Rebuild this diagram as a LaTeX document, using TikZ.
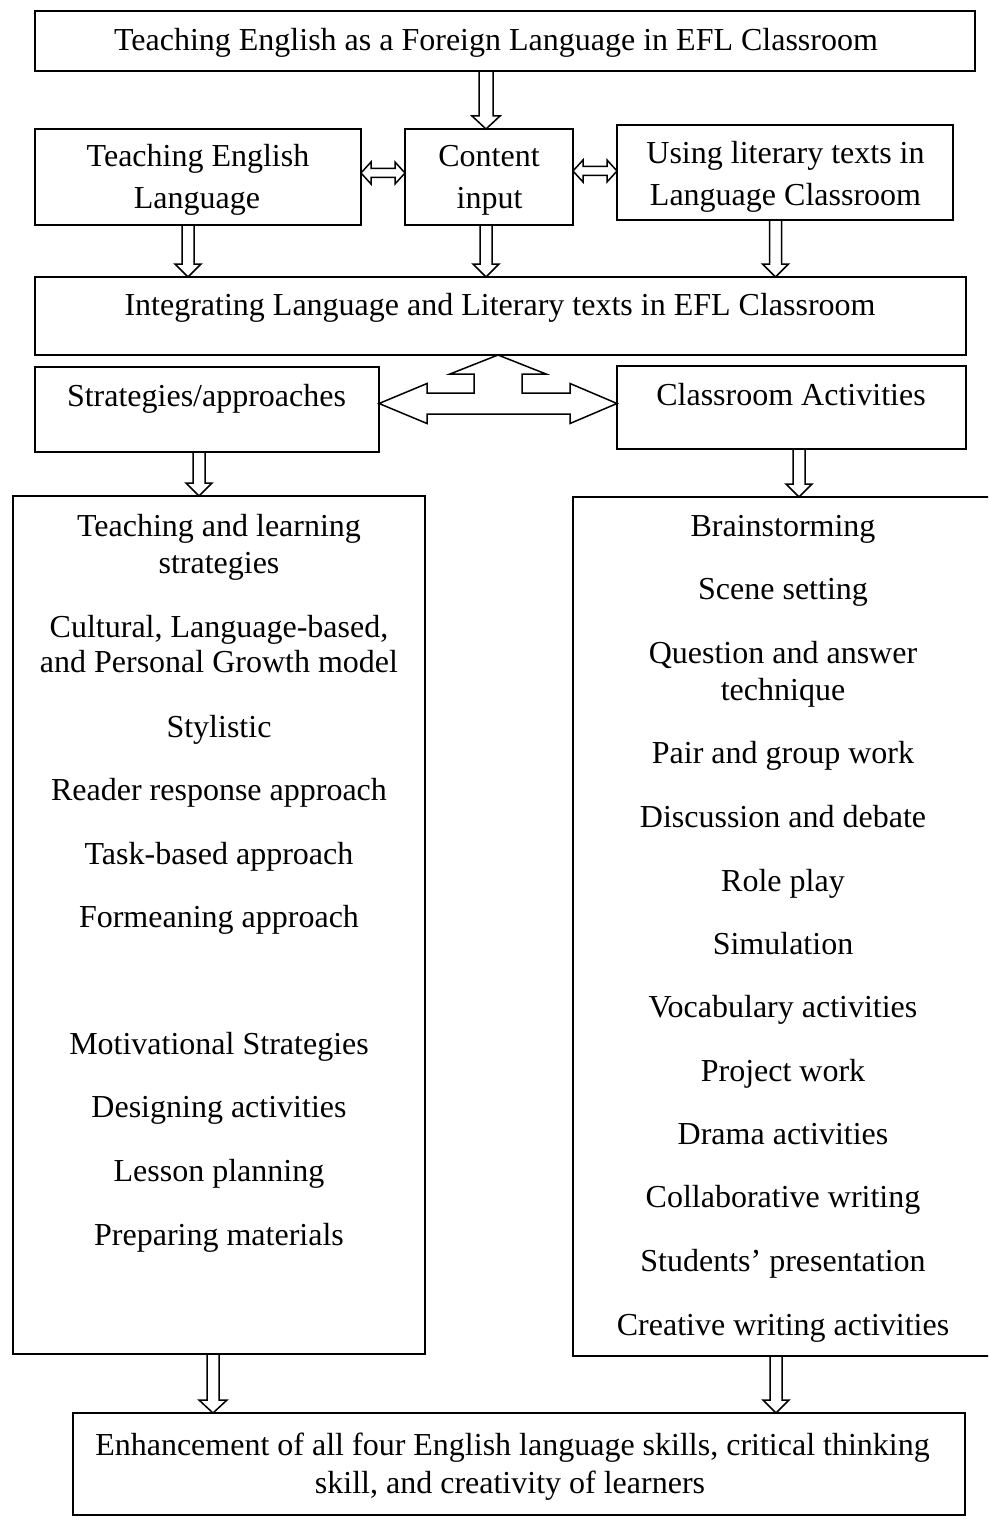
\documentclass[tikz,border=0pt]{standalone}
\usepackage{fontspec}
\setmainfont{Liberation Serif}
\usetikzlibrary{calc}
\tikzset{
  box/.style={draw, line width=1.6pt, inner sep=0pt, outer sep=0pt, rectangle},
  txt/.style={anchor=base, inner sep=0pt, font=\fontsize{32}{37}\selectfont},
  hollow/.style={draw, line width=1.5pt, line join=miter},
}
\newcommand\vhollow[5]{% x, from, to, half shaft, half head
  \draw[hollow] let \p1=(#1,0 |- #2), \p2=(#1,0 |- #3) in
    (\x1-#4pt,\y1) -- (\x1-#4pt,\y2+13pt) -- (\x1-#5pt,\y2+13pt) -- (\x1,\y2)
    -- (\x1+#5pt,\y2+13pt) -- (\x1+#4pt,\y2+13pt) -- (\x1+#4pt,\y1);}
\newcommand\hdouble[3]{% y, left node, right node
  \draw[hollow] let \p1=(#2 |- 0,#1), \p2=(#3 |- 0,#1) in
    (\x1,\y1) -- (\x1+10pt,\y1+11pt) -- (\x1+10pt,\y1+4.5pt) -- (\x2-10pt,\y1+4.5pt)
    -- (\x2-10pt,\y1+11pt) -- (\x2,\y1) -- (\x2-10pt,\y1-11pt) -- (\x2-10pt,\y1-4.5pt)
    -- (\x1+10pt,\y1-4.5pt) -- (\x1+10pt,\y1-11pt) -- cycle;}
\begin{document}
\begin{tikzpicture}[x=1pt,y=-1pt]
\useasboundingbox (0,0) rectangle (988,1522);
\clip (0,0) rectangle (988,1522);
% boxes
\node[box, minimum width=940pt, minimum height=60pt] (top) at (505,41) {};
\node[box, minimum width=326pt, minimum height=96pt] (tel) at (198,177) {};
\node[box, minimum width=168pt, minimum height=96pt] (ci) at (489,177) {};
\node[box, minimum width=336pt, minimum height=95pt] (ult) at (785,172.5) {};
\node[box, minimum width=931pt, minimum height=78pt] (int) at (500.5,316) {};
\node[box, minimum width=344pt, minimum height=85pt] (str) at (207,409.5) {};
\node[box, minimum width=349pt, minimum height=83pt] (ca) at (791.5,407.5) {};
\node[box, minimum width=412pt, minimum height=858pt] (lb) at (219,925) {};
\node[box, minimum width=422pt, minimum height=859pt] (rb) at (784,926.5) {};
\node[box, minimum width=892pt, minimum height=102pt] (bot) at (519,1464) {};
% texts
\node[txt] (ttop) at (496,51) {Teaching English as a Foreign Language in EFL Classroom};
\node[txt] (ttel1) at (198,167) {Teaching English};
\node[txt] (ttel2) at (197,209) {Language};
\node[txt] (tci1) at (489,167) {Content};
\node[txt] (tci2) at (489.5,209) {input};
\node[txt] (tult1) at (785.5,164) {Using literary texts in};
\node[txt] (tult2) at (785.5,206) {Language Classroom};
\node[txt] (tint) at (500,315) {Integrating Language and Literary texts in EFL Classroom};
\node[txt] (tstr) at (206.5,406) {Strategies/approaches};
\node[txt] (tca) at (791,405) {Classroom Activities};
\foreach \t/\y in {{Teaching and learning}/536, {strategies}/573,
  {Cultural, Language-based,}/637, {and Personal Growth model}/672,
  {Stylistic}/737, {Reader response approach}/800, {Task-based approach}/864,
  {Formeaning approach}/927, {Motivational Strategies}/1054,
  {Designing activities}/1117, {Lesson planning}/1181, {Preparing materials}/1245}
  \node[txt] (L\y) at (219,\y) {\t};
\foreach \t/\y in {{Brainstorming}/536, {Scene setting}/599,
  {Question and answer}/663, {technique}/700, {Pair and group work}/763,
  {Discussion and debate}/827, {Role play}/891, {Simulation}/954,
  {Vocabulary activities}/1017, {Project work}/1081, {Drama activities}/1144,
  {Collaborative writing}/1207, {Students’ presentation}/1271,
  {Creative writing activities}/1335}
  \node[txt] (R\y) at (783,\y) {\t};
\node[txt] (tbot1) at (512.5,1455) {Enhancement of all four English language skills, critical thinking};
\node[txt] (tbot2) at (510,1493) {skill, and creativity of learners};
% arrows
\vhollow{486}{top.south}{ci.north}{7}{14}
\vhollow{188}{tel.south}{int.north}{6}{13}
\vhollow{486}{ci.south}{int.north}{6}{13}
\vhollow{775.5}{ult.south}{int.north}{6}{13}
\vhollow{199}{str.south}{lb.north}{6}{13}
\vhollow{799}{ca.south}{rb.north}{6}{13}
\vhollow{213}{lb.south}{bot.north}{6}{14}
\vhollow{776}{rb.south}{bot.north}{6}{13}
\hdouble{173}{tel.east}{ci.west}
\hdouble{171}{ci.east}{ult.west}
% three-way arrow
\draw[hollow] let \p1=(498,0 |- int.south), \p2=(str.east |- 0,403.5), \p3=(ca.west |- 0,403.5) in
  (\x1,\y1) -- (\x1+48pt,\y1-19pt) -- (\x1+24pt,\y1-19pt) -- (\x1+24pt,\y2+10.5pt)
  -- (\x3-47pt,\y2+10.5pt) -- (\x3-47pt,\y2+20pt) -- (\x3,\y2) -- (\x3-47pt,\y2-20pt)
  -- (\x3-47pt,\y2-10.5pt) -- (\x2+48pt,\y2-10.5pt) -- (\x2+48pt,\y2-20pt) -- (\x2,\y2)
  -- (\x2+48pt,\y2+20pt) -- (\x2+48pt,\y2+10.5pt) -- (\x1-24pt,\y2+10.5pt)
  -- (\x1-24pt,\y1-19pt) -- (\x1-48pt,\y1-19pt) -- cycle;
\end{tikzpicture}
\end{document}
